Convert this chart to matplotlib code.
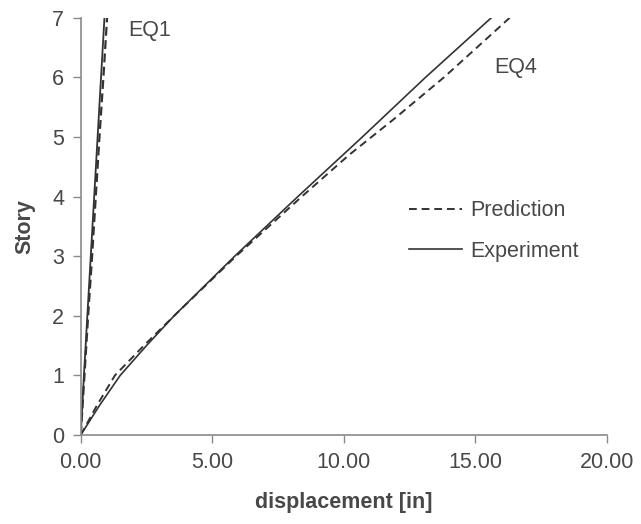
import matplotlib
matplotlib.use('Agg')
import matplotlib.pyplot as plt

# EQ1 (small displacements)
eq1_story = [0, 1, 2, 3, 4, 5, 6, 7]
eq1_exp = [0, 0.12, 0.25, 0.38, 0.51, 0.64, 0.77, 0.90]
eq1_pred = [0, 0.14, 0.28, 0.43, 0.57, 0.71, 0.86, 1.00]

# EQ4 (large displacements)
eq4_exp_story = [0, 0.5, 1, 1.5, 2, 3, 4, 5, 6, 7]
eq4_exp = [0, 0.72, 1.5, 2.5, 3.55, 5.85, 8.25, 10.7, 13.1, 15.6]
eq4_pred_story = [0, 0.5, 1, 1.5, 2, 3, 4, 4.7, 5.3, 6, 7]
eq4_pred = [0, 0.62, 1.3, 2.4, 3.55, 5.9, 8.4, 10.2, 11.9, 13.8, 16.3]

xticks = [0, 5, 10, 15, 20]
yticks = [0, 1, 2, 3, 4, 5, 6, 7]

plt.rcParams['font.family'] = ['Liberation Sans', 'DejaVu Sans']
txt = '#484848'
line = '#333333'
spine = '#8a8a8a'
fs = 15.5

fig = plt.figure(figsize=(6.41, 5.24), dpi=100)
ax = fig.add_axes([0.126, 0.170, 0.821, 0.796])

ax.plot(eq1_pred, eq1_story, color=line, lw=1.6, ls=(0, (4, 2)))
ax.plot(eq1_exp, eq1_story, color=line, lw=1.3)
ax.plot(eq4_pred, eq4_pred_story, color=line, lw=1.4, ls=(0, (4, 2.5)), label='Prediction')
ax.plot(eq4_exp, eq4_exp_story, color=line, lw=1.2, label='Experiment')

ax.set_xlim(0, 20)
ax.set_ylim(0, 7)
ax.set_xticks(xticks)
ax.set_xticklabels(['%.2f' % v for v in xticks])
ax.set_yticks(yticks)

for s in ['top', 'right']:
    ax.spines[s].set_visible(False)
for s in ['left', 'bottom']:
    ax.spines[s].set_color(spine)
    ax.spines[s].set_linewidth(1.2)
ax.tick_params(colors=spine, labelcolor=txt, labelsize=fs, length=6, width=1.0, pad=6)

ax.set_xlabel('displacement [in]', fontsize=fs, fontweight='bold', color=txt, labelpad=14)
ax.set_ylabel('Story', fontsize=fs, fontweight='bold', color=txt, labelpad=12)

ax.text(1.8, 6.78, 'EQ1', fontsize=fs, color=txt, ha='left', va='center')
ax.text(15.7, 6.17, 'EQ4', fontsize=fs, color=txt, ha='left', va='center')

ax.legend(loc='upper left', bbox_to_anchor=(0.586, 0.609), frameon=False,
          fontsize=fs, handlelength=2.5, handletextpad=0.37, labelspacing=0.9,
          labelcolor=txt)

fig.savefig('out.png', dpi=100)
